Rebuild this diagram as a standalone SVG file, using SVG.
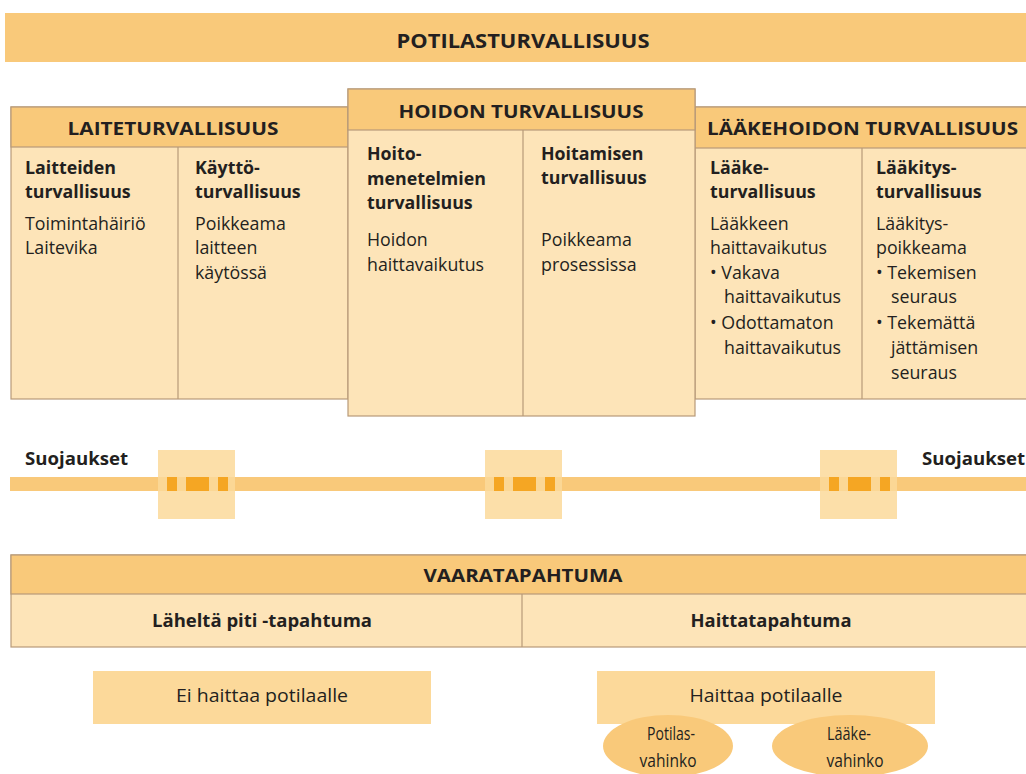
<svg xmlns="http://www.w3.org/2000/svg" width="1026" height="774" viewBox="0 0 1026 774">
<style>
.dark{fill:#F9C97A}
.light{fill:#FDE4B8}
.mid{fill:#FCD99A}
.bd{stroke:#B89A78;stroke-width:1.2}
.t{font-family:"Open Sans","Noto Sans",sans-serif;fill:#231F20;font-size:17.8px}
.b{font-weight:bold}
.h{font-family:"Open Sans","Noto Sans",sans-serif;fill:#231F20;font-weight:bold}
.c{text-anchor:middle}
.dash{fill:#F5A623}
</style>
<rect width="1026" height="774" fill="#FFFFFF"/>

<g id="potilasturvallisuus">
<rect x="5" y="13" width="1026" height="49" class="dark"/>
<text x="523" y="48" class="h c" font-size="20" textLength="253" lengthAdjust="spacingAndGlyphs">POTILASTURVALLISUUS</text>
</g>

<g id="laiteturvallisuus">
<rect x="11" y="107" width="337" height="292" class="light bd"/>
<rect x="11" y="107" width="337" height="40" class="dark bd"/>
<line x1="178" y1="147" x2="178" y2="399" class="bd"/>
<text x="173" y="135" class="h c" font-size="18" textLength="211" lengthAdjust="spacingAndGlyphs">LAITETURVALLISUUS</text>
<text class="t b"><tspan x="25" y="174">Laitteiden</tspan><tspan x="25" y="198">turvallisuus</tspan></text>
<text class="t"><tspan x="25" y="230">Toimintahäiriö</tspan><tspan x="25" y="254">Laitevika</tspan></text>
<text class="t b"><tspan x="195" y="174">Käyttö-</tspan><tspan x="195" y="198">turvallisuus</tspan></text>
<text class="t"><tspan x="195" y="230">Poikkeama</tspan><tspan x="195" y="254">laitteen</tspan><tspan x="195" y="279">käytössä</tspan></text>
</g>

<g id="laakehoidon">
<rect x="695" y="107" width="335" height="292" class="light bd"/>
<rect x="695" y="107" width="335" height="41" class="dark bd"/>
<line x1="862" y1="148" x2="862" y2="399" class="bd"/>
<text x="707" y="135" class="h" font-size="18" textLength="311" lengthAdjust="spacingAndGlyphs">LÄÄKEHOIDON TURVALLISUUS</text>
<text class="t b"><tspan x="710" y="174">Lääke-</tspan><tspan x="710" y="198">turvallisuus</tspan></text>
<text class="t"><tspan x="710" y="230">Lääkkeen</tspan><tspan x="710" y="254">haittavaikutus</tspan><tspan x="710" y="279">• Vakava</tspan><tspan x="724" y="303">haittavaikutus</tspan><tspan x="710" y="329">• Odottamaton</tspan><tspan x="724" y="354">haittavaikutus</tspan></text>
<text class="t b"><tspan x="876" y="174">Lääkitys-</tspan><tspan x="876" y="198">turvallisuus</tspan></text>
<text class="t"><tspan x="876" y="230">Lääkitys-</tspan><tspan x="876" y="254">poikkeama</tspan><tspan x="876" y="279">• Tekemisen</tspan><tspan x="891" y="303">seuraus</tspan><tspan x="876" y="329">• Tekemättä</tspan><tspan x="891" y="354">jättämisen</tspan><tspan x="891" y="379">seuraus</tspan></text>
</g>

<g id="hoidon">
<rect x="348" y="89" width="347" height="327" class="light bd"/>
<rect x="348" y="89" width="347" height="41" class="dark bd"/>
<line x1="523" y1="130" x2="523" y2="416" class="bd"/>
<text x="521" y="118" class="h c" font-size="18" textLength="245" lengthAdjust="spacingAndGlyphs">HOIDON TURVALLISUUS</text>
<text class="t b"><tspan x="367" y="160">Hoito-</tspan><tspan x="367" y="185">menetelmien</tspan><tspan x="367" y="209">turvallisuus</tspan></text>
<text class="t"><tspan x="367" y="246">Hoidon</tspan><tspan x="367" y="271">haittavaikutus</tspan></text>
<text class="t b"><tspan x="541" y="160">Hoitamisen</tspan><tspan x="541" y="184">turvallisuus</tspan></text>
<text class="t"><tspan x="541" y="246">Poikkeama</tspan><tspan x="541" y="271">prosessissa</tspan></text>
</g>

<g id="suojaukset">
<text x="25" y="465" class="h" font-size="17" textLength="103" lengthAdjust="spacingAndGlyphs">Suojaukset</text>
<text x="922" y="465" class="h" font-size="17" textLength="103" lengthAdjust="spacingAndGlyphs">Suojaukset</text>
<rect x="10" y="477" width="1016" height="14" class="dark"/>
<rect x="158" y="450" width="77" height="69" class="mid" opacity="0.85"/>
<rect x="485" y="450" width="77" height="69" class="mid" opacity="0.85"/>
<rect x="820" y="450" width="77" height="69" class="mid" opacity="0.85"/>
<rect x="167" y="477" width="10" height="14" class="dash"/><rect x="186" y="477" width="23" height="14" class="dash"/><rect x="218" y="477" width="10" height="14" class="dash"/>
<rect x="494" y="477" width="10" height="14" class="dash"/><rect x="513" y="477" width="23" height="14" class="dash"/><rect x="545" y="477" width="10" height="14" class="dash"/>
<rect x="829" y="477" width="10" height="14" class="dash"/><rect x="848" y="477" width="23" height="14" class="dash"/><rect x="880" y="477" width="10" height="14" class="dash"/>
</g>

<g id="vaaratapahtuma">
<rect x="11" y="555" width="1020" height="92" class="light bd"/>
<rect x="11" y="555" width="1020" height="39" class="dark bd"/>
<line x1="522" y1="594" x2="522" y2="647" class="bd"/>
<text x="523" y="582" class="h c" font-size="18" textLength="199" lengthAdjust="spacingAndGlyphs">VAARATAPAHTUMA</text>
<text x="262" y="627" class="h c" font-size="17" textLength="220" lengthAdjust="spacingAndGlyphs">Läheltä piti -tapahtuma</text>
<text x="771" y="627" class="h c" font-size="17" textLength="161" lengthAdjust="spacingAndGlyphs">Haittatapahtuma</text>
</g>

<g id="ei-haittaa">
<rect x="93" y="671" width="338" height="53" class="mid"/>
<text x="262" y="702" class="t c" font-size="18" textLength="172" lengthAdjust="spacingAndGlyphs">Ei haittaa potilaalle</text>
</g>

<g id="haittaa">
<rect x="597" y="671" width="338" height="53" class="mid"/>
<text x="766" y="702" class="t c" font-size="18" textLength="153" lengthAdjust="spacingAndGlyphs">Haittaa potilaalle</text>
</g>

<g id="potilasvahinko">
<ellipse cx="668" cy="746" rx="65" ry="31" class="dark"/>
<text x="671" y="740" class="t c" font-size="19" textLength="48" lengthAdjust="spacingAndGlyphs">Potilas-</text>
<text x="668" y="767" class="t c" font-size="19" textLength="57" lengthAdjust="spacingAndGlyphs">vahinko</text>
</g>

<g id="laakevahinko">
<ellipse cx="850" cy="746" rx="78" ry="31" class="dark"/>
<text x="849" y="740" class="t c" font-size="19" textLength="44" lengthAdjust="spacingAndGlyphs">Lääke-</text>
<text x="855" y="767" class="t c" font-size="19" textLength="57" lengthAdjust="spacingAndGlyphs">vahinko</text>
</g>

<g id="connectors"></g>
</svg>
